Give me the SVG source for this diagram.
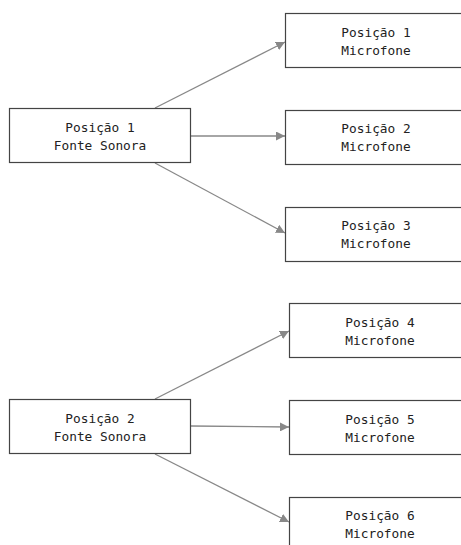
<svg xmlns="http://www.w3.org/2000/svg" width="461" height="545" viewBox="0 0 461 545">
<style>
.box{fill:#fff;stroke:#444;stroke-width:1.2}
.t{font-family:"DejaVu Sans Mono","Liberation Mono",monospace;font-size:12.8px;fill:#222;text-anchor:middle}
.c{stroke:#888;stroke-width:1.3;fill:none;marker-end:url(#ah)}
</style>
<defs>
<marker id="ah" viewBox="0 0 10 10" refX="10" refY="5" markerWidth="9" markerHeight="9" markerUnits="userSpaceOnUse" orient="auto">
<path d="M0,0 L10,5 L0,10 z" fill="#888"/>
</marker>
</defs>
<rect width="461" height="545" fill="#fff"/>
<g id="connectors">
<line class="c" x1="155" y1="108" x2="285" y2="42"/>
<line class="c" x1="191" y1="136" x2="285" y2="136"/>
<line class="c" x1="155" y1="163" x2="285" y2="233"/>
<line class="c" x1="155" y1="399" x2="289" y2="331"/>
<line class="c" x1="191" y1="426" x2="289" y2="427"/>
<line class="c" x1="155" y1="454" x2="289" y2="522"/>
</g>
<g id="src1"><rect class="box" x="9.5" y="108.5" width="181" height="54"/><text class="t" x="100" y="132">Posição 1</text><text class="t" x="100" y="150">Fonte Sonora</text></g>
<g id="mic1"><rect class="box" x="285.5" y="13.5" width="185" height="54"/><text class="t" x="376" y="37">Posição 1</text><text class="t" x="376" y="55">Microfone</text></g>
<g id="mic2"><rect class="box" x="285.5" y="110.5" width="185" height="54"/><text class="t" x="376" y="133">Posição 2</text><text class="t" x="376" y="151">Microfone</text></g>
<g id="mic3"><rect class="box" x="285.5" y="207.5" width="185" height="54"/><text class="t" x="376" y="230">Posição 3</text><text class="t" x="376" y="248">Microfone</text></g>
<g id="src2"><rect class="box" x="9.5" y="399.5" width="181" height="54"/><text class="t" x="100" y="423">Posição 2</text><text class="t" x="100" y="441">Fonte Sonora</text></g>
<g id="mic4"><rect class="box" x="289.5" y="303.5" width="185" height="54"/><text class="t" x="380" y="327">Posição 4</text><text class="t" x="380" y="345">Microfone</text></g>
<g id="mic5"><rect class="box" x="289.5" y="400.5" width="185" height="54"/><text class="t" x="380" y="424">Posição 5</text><text class="t" x="380" y="442">Microfone</text></g>
<g id="mic6"><rect class="box" x="289.5" y="497.5" width="185" height="60"/><text class="t" x="380" y="520">Posição 6</text><text class="t" x="380" y="538">Microfone</text></g>
</svg>
